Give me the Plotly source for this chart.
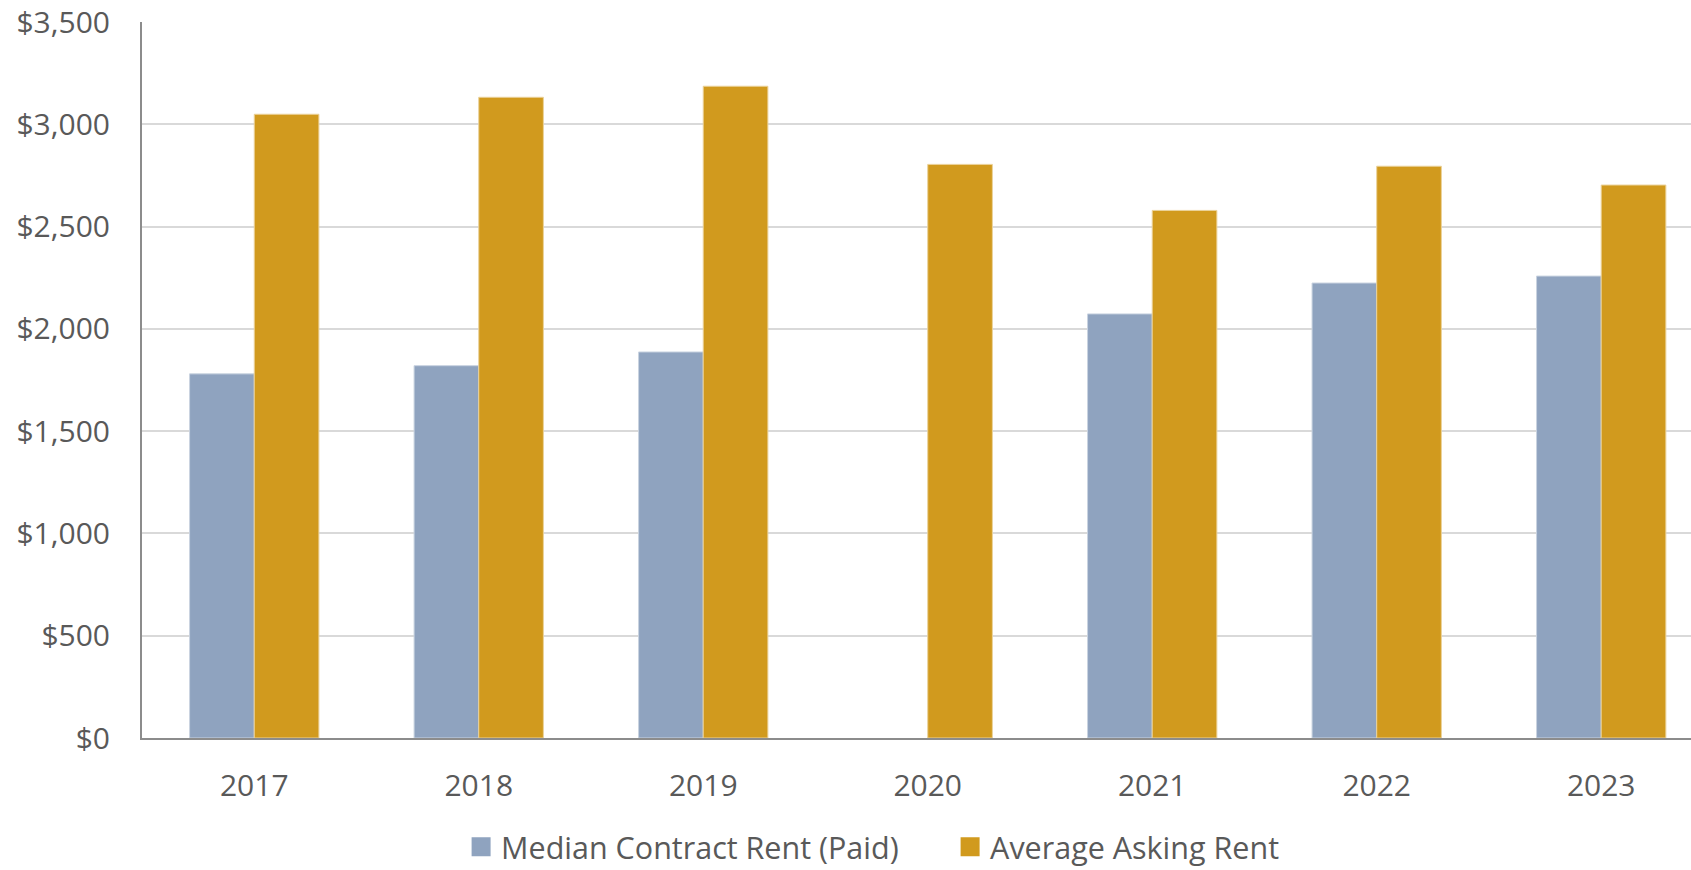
import plotly.graph_objects as go

years = ["2017", "2018", "2019", "2020", "2021", "2022", "2023"]
median_contract_rent = [1780, 1820, 1887, None, 2073, 2224, 2258]
average_asking_rent = [3049, 3132, 3186, 2804, 2579, 2795, 2703]
y_ticks = [0, 500, 1000, 1500, 2000, 2500, 3000, 3500]
y_tick_labels = ["$0", "$500", "$1,000", "$1,500", "$2,000", "$2,500", "$3,000", "$3,500"]

blue = "#8FA3BF"
gold = "#D19A1E"
txt = "#595959"
font_name = "Open Sans"

fig = go.Figure()
fig.add_trace(go.Bar(x=years, y=median_contract_rent, name="Median Contract Rent (Paid)",
                     marker=dict(color=blue, line=dict(color="#C9D3E0", width=1)),
                     showlegend=False))
fig.add_trace(go.Bar(x=years, y=average_asking_rent, name="Average Asking Rent",
                     marker=dict(color=gold, line=dict(color="#EBD29A", width=1)),
                     showlegend=False))

# legend entries with bigger squares than plotly's default bar swatch
for name, col in [("Median Contract Rent (Paid)", blue), ("Average Asking Rent", gold)]:
    fig.add_trace(go.Scatter(x=[None], y=[None], mode="markers", name=name,
                             marker=dict(symbol="square", size=16, color=col,
                                         line=dict(color=col, width=3))))

fig.update_layout(
    width=1691, height=870,
    margin=dict(l=142, r=0, t=22, b=132, autoexpand=False),
    paper_bgcolor="white", plot_bgcolor="white",
    barmode="group", bargap=0.424, bargroupgap=0,
    font=dict(family=font_name, size=30, color=txt),
    legend=dict(orientation="h", x=0.206, xanchor="left", y=-0.152, yanchor="middle",
                font=dict(size=30.5, color=txt), itemwidth=30, entrywidth=444,
                traceorder="normal"),
)
fig.update_xaxes(range=[-0.5, 6.40], showline=True, linecolor="#8C8C8C", linewidth=2,
                 ticks="", ticklabelstandoff=20, showgrid=False)
fig.update_yaxes(range=[0, 3500], tickvals=y_ticks, ticktext=y_tick_labels,
                 showline=True, linecolor="#8C8C8C", linewidth=2,
                 gridcolor="#D9D9D9", gridwidth=2, ticks="", ticklabelstandoff=24,
                 zeroline=False)

# drop the default 8px body margin so the figure fills the window
fig.write_html("out.html", config={"displayModeBar": False},
               post_script="document.body.style.margin='0';")
